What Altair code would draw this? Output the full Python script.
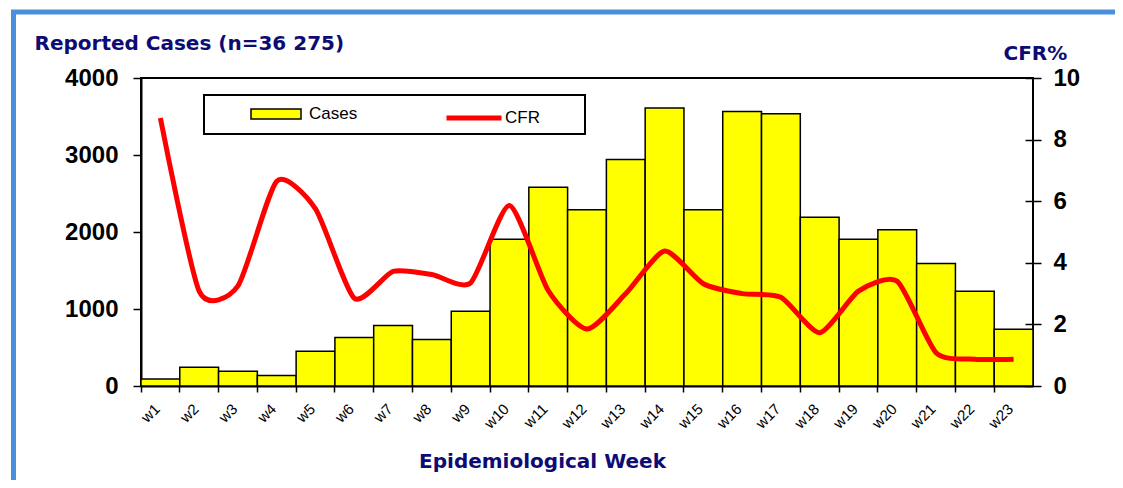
import altair as alt
import pandas as pd

weeks = ["w1", "w2", "w3", "w4", "w5", "w6", "w7", "w8", "w9", "w10", "w11", "w12",
         "w13", "w14", "w15", "w16", "w17", "w18", "w19", "w20", "w21", "w22", "w23"]
cases = [90, 245, 190, 135, 450, 630, 785, 605, 970, 1905, 2580, 2290,
         2940, 3610, 2290, 3565, 3535, 2190, 1905, 2030, 1590, 1230, 738]
cfr = [8.70, 3.08, 3.25, 6.65, 5.75, 2.85, 3.72, 3.62, 3.35, 5.86, 3.10, 1.85,
       3.00, 4.38, 3.32, 3.00, 2.88, 1.73, 3.08, 3.40, 1.08, 0.87, 0.87]
left_ticks = [0, 1000, 2000, 3000, 4000]
right_ticks = [0, 2, 4, 6, 8, 10]

df = pd.DataFrame({"week": weeks, "cases": cases, "cfr": cfr})
one = pd.DataFrame({"k": [0]})

NAVY = "#0c0c74"
BLUE = "#4a8fdd"
TFONT = "DejaVu Sans"
LFONT = "Liberation Sans"

cases_legend = alt.Legend(
    title=None, orient="none", legendX=109, legendY=10,
    symbolType="M-1,-0.2H1V0.2H-1Z", symbolSize=2500,
    symbolStrokeColor="black", symbolStrokeWidth=1.5, symbolOpacity=1,
    labelFont=LFONT, labelFontSize=17, labelColor="black", labelOffset=7, padding=0)
cfr_legend = alt.Legend(
    title=None, orient="none", legendX=303, legendY=10,
    symbolType="stroke", symbolSize=3025, symbolStrokeWidth=5, symbolOpacity=1,
    labelFont=LFONT, labelFontSize=17, labelColor="black", labelOffset=1, padding=0)

x = alt.X("week:N", sort=weeks,
          scale=alt.Scale(paddingInner=0, paddingOuter=0),
          axis=alt.Axis(title="Epidemiological Week", titleFont=TFONT, titleFontSize=20,
                        titleFontWeight="bold", titleColor=NAVY, titleX=401, titleY=81,
                        titleAlign="center", titleBaseline="alphabetic",
                        bandPosition=0, labelOffset=-3, labelAngle=315,
                        labelAlign="right", labelBaseline="middle", labelPadding=14,
                        labelFont=LFONT, labelFontSize=15, labelColor="black",
                        tickSize=6, tickWidth=1.5, tickColor="black",
                        domainColor="black", domainWidth=2, grid=False))

bars = alt.Chart(df).transform_calculate(series="'Cases'").mark_bar(
    stroke="black", strokeWidth=1.5).encode(
    x=x,
    y=alt.Y("cases:Q", scale=alt.Scale(domain=[0, 4000], nice=False),
            axis=alt.Axis(values=left_ticks, format="d", title="Reported Cases (n=36 275)",
                          titleAngle=0, titleX=-107, titleY=-29, titleAlign="left",
                          titleBaseline="alphabetic", titleFont=TFONT, titleFontSize=20,
                          titleFontWeight="bold", titleColor=NAVY,
                          labelFont=LFONT, labelFontSize=24, labelFontWeight="bold",
                          labelColor="black", labelPadding=15, tickSize=8, tickWidth=1.5,
                          tickColor="black", domainColor="black", domainWidth=2, grid=False)),
    fill=alt.Fill("series:N", scale=alt.Scale(domain=["Cases"], range=["#ffff00"]), legend=cases_legend),
)

line = alt.Chart(df).transform_calculate(series2="'CFR'").mark_line(
    strokeWidth=5, interpolate="cardinal", tension=0.35).encode(
    x=x,
    y=alt.Y("cfr:Q", scale=alt.Scale(domain=[0, 10], nice=False),
            axis=alt.Axis(orient="right", values=right_ticks, title="CFR%",
                          titleAngle=0, titleX=-22, titleY=-19, titleAlign="left",
                          titleBaseline="alphabetic", titleFont=TFONT, titleFontSize=20,
                          titleFontWeight="bold", titleColor=NAVY,
                          labelFont=LFONT, labelFontSize=24, labelFontWeight="bold",
                          labelColor="black", labelPadding=12, tickSize=16, tickWidth=1.5,
                          tickColor="black", offset=-8, domain=False, grid=False)),
    stroke=alt.Stroke("series2:N", scale=alt.Scale(domain=["CFR"], range=["#ff0000"]), legend=cfr_legend),
)

legend_box = alt.Chart(one).mark_rect(fill="white", stroke="black", strokeWidth=2).encode(
    x=alt.value(63), x2=alt.value(444), y=alt.value(17), y2=alt.value(56))

top_border = alt.Chart(one).mark_rule(color=BLUE, strokeWidth=5).encode(
    x=alt.value(-130), x2=alt.value(990), y=alt.value(-66))
left_border = alt.Chart(one).mark_rule(color=BLUE, strokeWidth=5).encode(
    x=alt.value(-127.5), y=alt.value(-68), y2=alt.value(420))

chart = alt.layer(top_border, left_border, legend_box, bars, line).resolve_scale(
    y="independent"
).properties(
    width=892, height=308,
    autosize=alt.AutoSizeParams(type="none"),
    padding={"left": 133, "top": 70, "right": 82, "bottom": 94},
    background="white",
).configure_view(stroke="black", strokeWidth=2)

chart.save("out.html", embed_options={"renderer": "svg", "actions": False})
